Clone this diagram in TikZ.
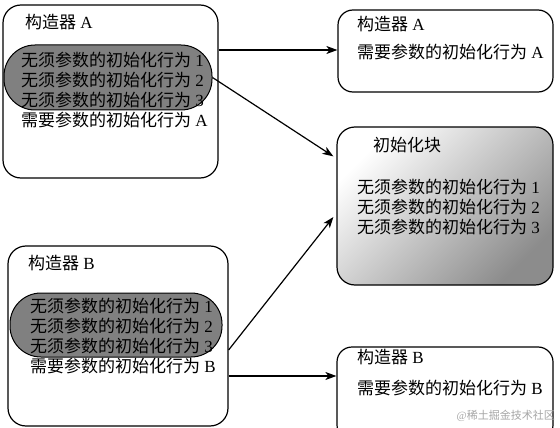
\documentclass[tikz,border=0pt]{standalone}
\usepackage{fontspec}
\setmainfont{Liberation Serif}
\newfontfamily\cjk{Noto Sans CJK SC}
\usetikzlibrary{arrows.meta,calc}
\newcommand{\zh}[1]{{\cjk #1}}

\begin{document}
\begin{tikzpicture}[x=1pt,y=-1pt,
  box/.style={draw,line width=1.2pt,rounded corners=18pt,inner sep=0pt},
  pill/.style={draw,line width=1pt,fill=black!50,rounded corners=31pt,inner sep=0pt},
  txt/.style={anchor=west,align=left,inner sep=0pt,font=\fontsize{17}{20}\selectfont},
  link/.style={line width=1.2pt,-{Stealth[length=11pt,width=8pt,inset=3pt]}}]
  \clip (0,0) rectangle (560,428);
  \fill[white] (0,0) rectangle (560,428);

  % left side: the two constructors
  \node[box,minimum width=215,minimum height=173] (a1) at (110.5,91.5) {};
  \node[pill,minimum width=208,minimum height=65] (pa) at (108,77.5) {};
  \node[txt] (a1t) at (25,22) {\zh{构造器} A};
  \node[txt] (a1l) at (21,90.5) {\zh{无须参数的初始化行为} 1\\ \zh{无须参数的初始化行为} 2\\
    \zh{无须参数的初始化行为} 3\\ \zh{需要参数的初始化行为} A};

  \node[box,minimum width=220,minimum height=180] (b1) at (118,336) {};
  \node[pill,minimum width=212,minimum height=64] (pb) at (116,325) {};
  \node[txt] (b1t) at (28,263) {\zh{构造器} B};
  \node[txt] (b1l) at (30,336) {\zh{无须参数的初始化行为} 1\\ \zh{无须参数的初始化行为} 2\\
    \zh{无须参数的初始化行为} 3\\ \zh{需要参数的初始化行为} B};

  % right side
  \node[box,rounded corners=15pt,minimum width=215,minimum height=82] (a2) at (445.5,51) {};
  \node[txt] (a2t) at (357,24) {\zh{构造器} A};
  \node[txt] (a2l) at (357,52) {\zh{需要参数的初始化行为} A};

  \node[box,top color=white,bottom color=black!45,shading angle=45,
    minimum width=216,minimum height=158] (init) at (445,206) {};
  \node[txt] (it) at (373,145) {\zh{初始化块}};
  \node[txt] (il) at (357,207) {\zh{无须参数的初始化行为} 1\\ \zh{无须参数的初始化行为} 2\\
    \zh{无须参数的初始化行为} 3};

  \node[box,rounded corners=15pt,minimum width=216,minimum height=93] (b2) at (445,393.5) {};
  \node[txt] (b2t) at (357,357) {\zh{构造器} B};
  \node[txt] (b2l) at (357,388) {\zh{需要参数的初始化行为} B};

  \node[anchor=east,inner sep=0pt,text=black!35,font=\fontsize{11}{12}\selectfont]
    (wm) at (555,416) {@\zh{稀土掘金技术社区}};

  % arrows
  \draw[link] ([yshift=1pt]a2.west -| a1.east) -- ([yshift=1pt]a2.west);
  \draw[link] (pa.east) -- ($(init.north west)+(-3,30)$);
  \draw[link] ([yshift=-14pt]b1.east) -- ($(init.west)+(-3,11)$);
  \draw[link] ([yshift=-40pt]b1.east) -- ([yshift=-40pt]b1.east -| b2.west);
\end{tikzpicture}
\end{document}
